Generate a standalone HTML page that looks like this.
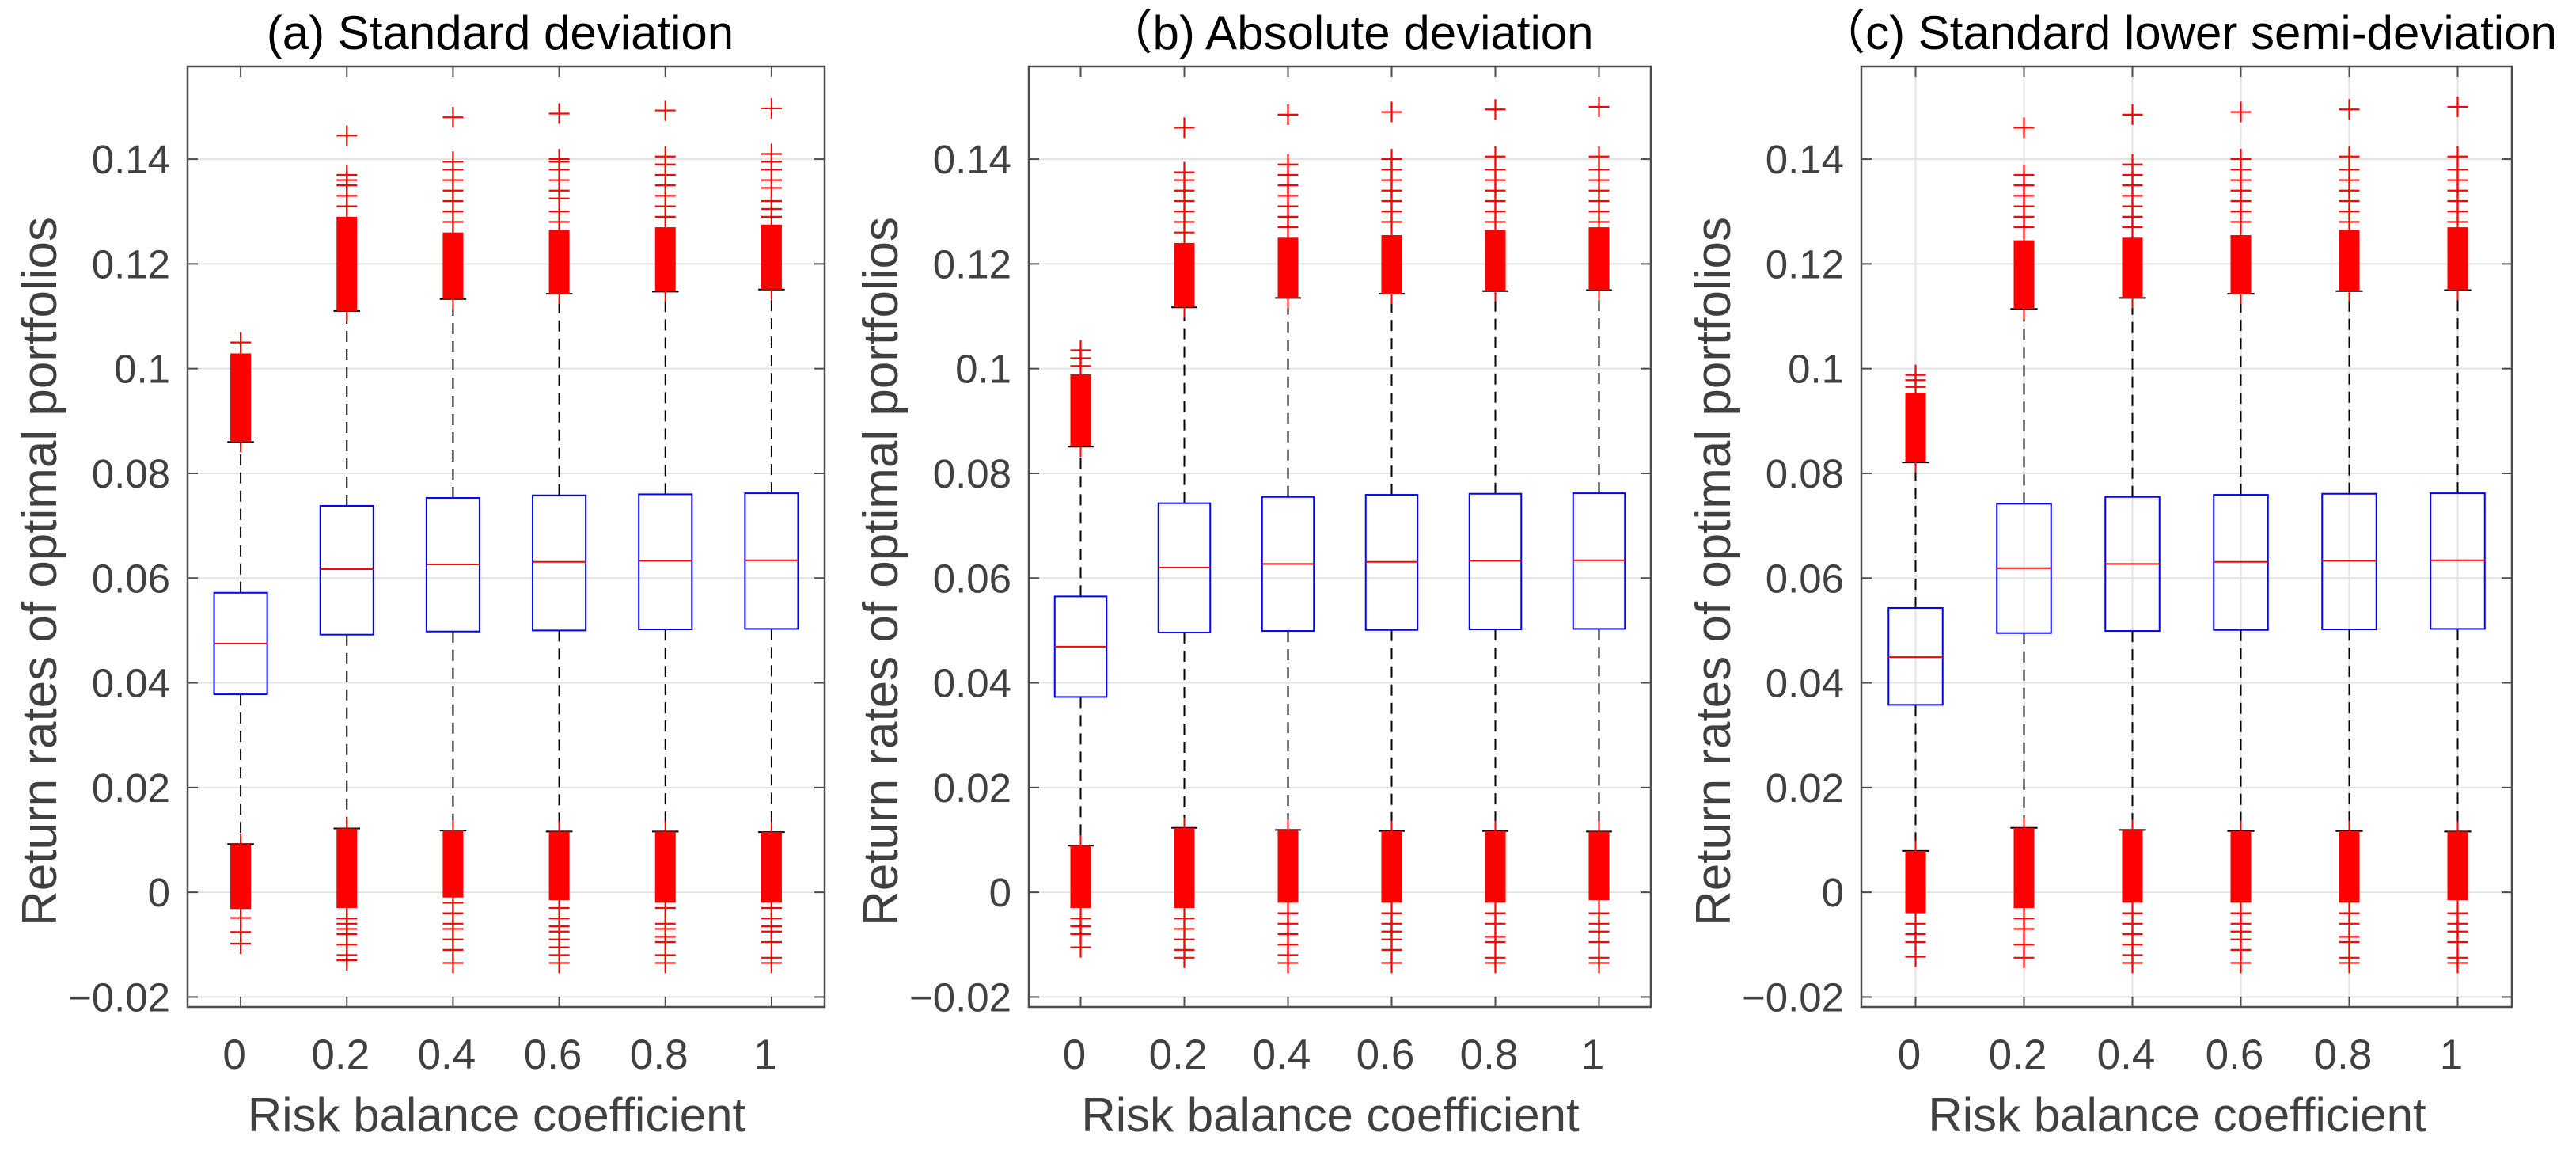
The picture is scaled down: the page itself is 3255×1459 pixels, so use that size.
<!DOCTYPE html>
<html><head><meta charset="utf-8"><style>
html,body{margin:0;padding:0;background:#fff;}
svg{display:block;font-family:"Liberation Sans","Noto Sans CJK SC",sans-serif;}
</style></head><body>
<svg id="fig" width="3255" height="1459" viewBox="0 0 3255 1459" xmlns="http://www.w3.org/2000/svg"></svg>
<script>
// ---- shared data ----
const categories = ["0","0.2","0.4","0.6","0.8","1"];
const yTicks = [-0.02,0,0.02,0.04,0.06,0.08,0.1,0.12,0.14];
const yTickLabels = ["\u22120.02","0","0.02","0.04","0.06","0.08","0.1","0.12","0.14"];
const titles = ["(a) Standard deviation","\uFF08b) Absolute deviation","\uFF08c) Standard lower semi-deviation"];
const yLabel = "Return rates of  optimal portfolios";
const xLabel = "Risk balance coefficient";

// ---- panel (a) ----
const q1A  = [0.0378,0.0492,0.0498,0.0500,0.0502,0.0503];
const medA = [0.0475,0.0617,0.0626,0.0631,0.0633,0.0634];
const q3A  = [0.0572,0.0738,0.0753,0.0758,0.0760,0.0762];
const whLoA = [0.0092,0.0122,0.0118,0.0116,0.0116,0.0115];
const whHiA = [0.0860,0.1110,0.1133,0.1143,0.1147,0.1151];
const upDenseA = [0.1029,0.1290,0.1260,0.1265,0.1270,0.1275];
const lowDenseA = [-0.0032,-0.0030,-0.0010,-0.0015,-0.0020,-0.0020];
const upSparseA = [[0.1050],[0.131,0.133,0.135,0.136,0.137,0.1445],[0.128,0.130,0.132,0.134,0.136,0.138,0.1395,0.148],[0.128,0.130,0.1325,0.134,0.136,0.138,0.1395,0.140,0.1487],[0.129,0.131,0.133,0.135,0.137,0.139,0.1405,0.1493],[0.129,0.1305,0.132,0.1345,0.136,0.138,0.1395,0.141,0.1497]];
const lowSparseA = [[-0.0049,-0.0076,-0.0098],[-0.005,-0.006,-0.007,-0.008,-0.010,-0.012,-0.013],[-0.002,-0.004,-0.006,-0.007,-0.009,-0.011,-0.0135],[-0.003,-0.005,-0.0065,-0.0075,-0.009,-0.0105,-0.012,-0.0135],[-0.003,-0.006,-0.007,-0.0085,-0.0095,-0.012,-0.0135],[-0.003,-0.005,-0.0065,-0.0075,-0.0095,-0.0125,-0.0135]];

// ---- panel (b) ----
const q1B  = [0.0373,0.0496,0.0499,0.0501,0.0502,0.0503];
const medB = [0.0469,0.0620,0.0627,0.0631,0.0633,0.0634];
const q3B  = [0.0565,0.0743,0.0755,0.0759,0.0761,0.0762];
const whLoB = [0.0089,0.0123,0.0119,0.0117,0.0117,0.0116];
const whHiB = [0.0851,0.1117,0.1135,0.1143,0.1148,0.1150];
const upDenseB = [0.0989,0.1240,0.1250,0.1255,0.1265,0.1270];
const lowDenseB = [-0.0030,-0.0030,-0.0020,-0.0020,-0.0020,-0.0015];
const upSparseB = [[0.1005,0.1020,0.1035],[0.126,0.128,0.130,0.132,0.134,0.136,0.1375,0.146],[0.127,0.129,0.131,0.133,0.135,0.137,0.139,0.1485],[0.128,0.130,0.132,0.134,0.136,0.138,0.140,0.149],[0.128,0.130,0.132,0.134,0.136,0.138,0.1405,0.1495],[0.128,0.130,0.132,0.134,0.136,0.138,0.1405,0.150]];
const lowSparseB = [[-0.005,-0.0065,-0.008,-0.0105],[-0.005,-0.007,-0.009,-0.011,-0.0125],[-0.004,-0.006,-0.008,-0.010,-0.012,-0.0135],[-0.004,-0.006,-0.0075,-0.009,-0.011,-0.0135],[-0.004,-0.006,-0.0085,-0.0095,-0.0125,-0.0135],[-0.004,-0.006,-0.0075,-0.0095,-0.0125,-0.0135]];

// ---- panel (c) ----
const q1C  = [0.0358,0.0495,0.0499,0.0501,0.0502,0.0503];
const medC = [0.0449,0.0619,0.0627,0.0631,0.0633,0.0634];
const q3C  = [0.0543,0.0742,0.0755,0.0759,0.0761,0.0762];
const whLoC = [0.0079,0.0123,0.0119,0.0117,0.0117,0.0116];
const whHiC = [0.0821,0.1114,0.1135,0.1143,0.1148,0.1150];
const upDenseC = [0.0954,0.1245,0.1250,0.1255,0.1265,0.1270];
const lowDenseC = [-0.0040,-0.0030,-0.0020,-0.0020,-0.0020,-0.0015];
const upSparseC = [[0.0965,0.0978,0.0988],[0.127,0.129,0.131,0.133,0.135,0.137,0.146],[0.127,0.129,0.131,0.133,0.135,0.137,0.139,0.1485],[0.128,0.130,0.132,0.134,0.136,0.138,0.140,0.149],[0.128,0.130,0.132,0.134,0.136,0.138,0.1405,0.1495],[0.128,0.130,0.132,0.134,0.136,0.138,0.1405,0.150]];
const lowSparseC = [[-0.006,-0.008,-0.0095,-0.0123],[-0.005,-0.007,-0.010,-0.0125],[-0.004,-0.006,-0.008,-0.010,-0.012,-0.0135],[-0.004,-0.006,-0.0075,-0.009,-0.011,-0.0135],[-0.004,-0.006,-0.0085,-0.0095,-0.0125,-0.0135],[-0.004,-0.006,-0.0075,-0.0095,-0.0125,-0.0135]];

const panelsData = [
  {q1:q1A,med:medA,q3:q3A,wl:whLoA,wh:whHiA,ud:upDenseA,ld:lowDenseA,us:upSparseA,ls:lowSparseA},
  {q1:q1B,med:medB,q3:q3B,wl:whLoB,wh:whHiB,ud:upDenseB,ld:lowDenseB,us:upSparseB,ls:lowSparseB},
  {q1:q1C,med:medC,q3:q3C,wl:whLoC,wh:whHiC,ud:upDenseC,ld:lowDenseC,us:upSparseC,ls:lowSparseC}
];
const Y_MIN = -0.0219, Y_MAX = 0.1577;
const geom = [
  {left:237,right:1042,vgrid:false,name:"a"},
  {left:1300,right:2086,vgrid:false,name:"b"},
  {left:2352,right:3174,vgrid:true,name:"c"}
];
const TOP = 84, BOTTOM = 1272;
const NS = "http://www.w3.org/2000/svg";
const svg = document.getElementById("fig");
function mk(tag, attrs, parent){
  const e = document.createElementNS(NS, tag);
  for (const k in attrs) e.setAttribute(k, attrs[k]);
  (parent||svg).appendChild(e);
  return e;
}
function yScale(v){ return BOTTOM - (v - Y_MIN) / (Y_MAX - Y_MIN) * (BOTTOM - TOP); }

geom.forEach((g, p) => {
  const d = panelsData[p];
  const step = (g.right - g.left) / categories.length;
  const xScale = i => g.left + step * (i + 0.5);
  const bw = step * 0.5;
  const G = mk("g", {});
  
  

  yTicks.forEach(t => {
    const l = mk("line", {x1:g.left, x2:g.right, y1:yScale(t), y2:yScale(t), stroke:"#e3e3e3", "stroke-width":2}, G);
    
    
  });
  if (g.vgrid) categories.forEach((c, i) => {
    const l = mk("line", {x1:xScale(i), x2:xScale(i), y1:TOP, y2:BOTTOM, stroke:"#e3e3e3", "stroke-width":2}, G);
    
    
  });

  categories.forEach((c, i) => {
    const cx = xScale(i);
    const bg = mk("g", {}, G);
    
    
    mk("line", {x1:cx, x2:cx, y1:yScale(d.q3[i]), y2:yScale(d.wh[i]), stroke:"#000", "stroke-width":2, "stroke-dasharray":"14,9"}, bg);
    mk("line", {x1:cx, x2:cx, y1:yScale(d.q1[i]), y2:yScale(d.wl[i]), stroke:"#000", "stroke-width":2, "stroke-dasharray":"14,9"}, bg);
    mk("line", {x1:cx-bw/4, x2:cx+bw/4, y1:yScale(d.wh[i]), y2:yScale(d.wh[i]), stroke:"#000", "stroke-width":2}, bg);
    mk("line", {x1:cx-bw/4, x2:cx+bw/4, y1:yScale(d.wl[i]), y2:yScale(d.wl[i]), stroke:"#000", "stroke-width":2}, bg);
    mk("rect", {x:cx-bw/2, y:yScale(d.q3[i]), width:bw, height:yScale(d.q1[i])-yScale(d.q3[i]), fill:"none", stroke:"#0000ff", "stroke-width":2}, bg);
    mk("line", {x1:cx-bw/2, x2:cx+bw/2, y1:yScale(d.med[i]), y2:yScale(d.med[i]), stroke:"#ff0000", "stroke-width":2}, bg);
    const hw = 13, hh = 13;
    const up = mk("rect", {x:cx-hw, y:yScale(d.ud[i]), width:hw*2, height:yScale(d.wh[i])-yScale(d.ud[i]), fill:"#ff0000"}, bg);
    
    
    mk("line", {x1:cx, x2:cx, y1:yScale(d.ud[i])-hh, y2:yScale(d.wh[i])+hh, stroke:"#ff0000", "stroke-width":2}, bg);
    const lo = mk("rect", {x:cx-hw, y:yScale(d.wl[i]), width:hw*2, height:yScale(d.ld[i])-yScale(d.wl[i]), fill:"#ff0000"}, bg);
    
    
    mk("line", {x1:cx, x2:cx, y1:yScale(d.wl[i])-hh, y2:yScale(d.ld[i])+hh, stroke:"#ff0000", "stroke-width":2}, bg);
    d.us[i].concat(d.ls[i]).forEach(v => {
      const y = yScale(v);
      const m = mk("path", {d:`M${cx-hw},${y}H${cx+hw}M${cx},${y-hh}V${y+hh}`, stroke:"#ff0000", "stroke-width":2.2, fill:"none"}, bg);
      
      
    });
  });

  const fr = mk("rect", {x:g.left, y:TOP, width:g.right-g.left, height:BOTTOM-TOP, fill:"none", stroke:"#4d4d4d", "stroke-width":2.5}, G);
  
  
  yTicks.forEach((t, k) => {
    const y = yScale(t);
    mk("line", {x1:g.left, x2:g.left+13, y1:y, y2:y, stroke:"#4d4d4d", "stroke-width":2}, G);
    mk("line", {x1:g.right, x2:g.right-13, y1:y, y2:y, stroke:"#4d4d4d", "stroke-width":2}, G);
    const tx = mk("text", {x:g.left-22, y:y+18, "text-anchor":"end", "font-size":51, fill:"#404040"}, G);
    tx.textContent = yTickLabels[k];
    
    
  });
  categories.forEach((c, i) => {
    const x = xScale(i);
    mk("line", {x1:x, x2:x, y1:BOTTOM, y2:BOTTOM-13, stroke:"#4d4d4d", "stroke-width":2}, G);
    mk("line", {x1:x, x2:x, y1:TOP, y2:TOP+13, stroke:"#4d4d4d", "stroke-width":2}, G);
    const tx = mk("text", {x:x-8, y:1350, "text-anchor":"middle", "font-size":53, fill:"#404040"}, G);
    tx.textContent = c;
    
    
  });
  const mid = (g.left + g.right) / 2;
  const xl = mk("text", {x:mid-12, y:1429, "text-anchor":"middle", "font-size":60, fill:"#404040"}, G);
  xl.textContent = xLabel;
  
  
  const ylx = g.left - 166, yly = 722;
  const yl = mk("text", {x:ylx, y:yly, "text-anchor":"middle", "font-size":62, fill:"#404040", transform:`rotate(-90 ${ylx} ${yly})`}, G);
  yl.textContent = yLabel;
  
  
  const ttx = [632, 1705, 2764][p];
  const tt = mk("text", {x:ttx, y:62, "text-anchor":"middle", "font-size":60, fill:"#000"}, G);
  tt.textContent = titles[p];
  
  
});
</script>
</body></html>
